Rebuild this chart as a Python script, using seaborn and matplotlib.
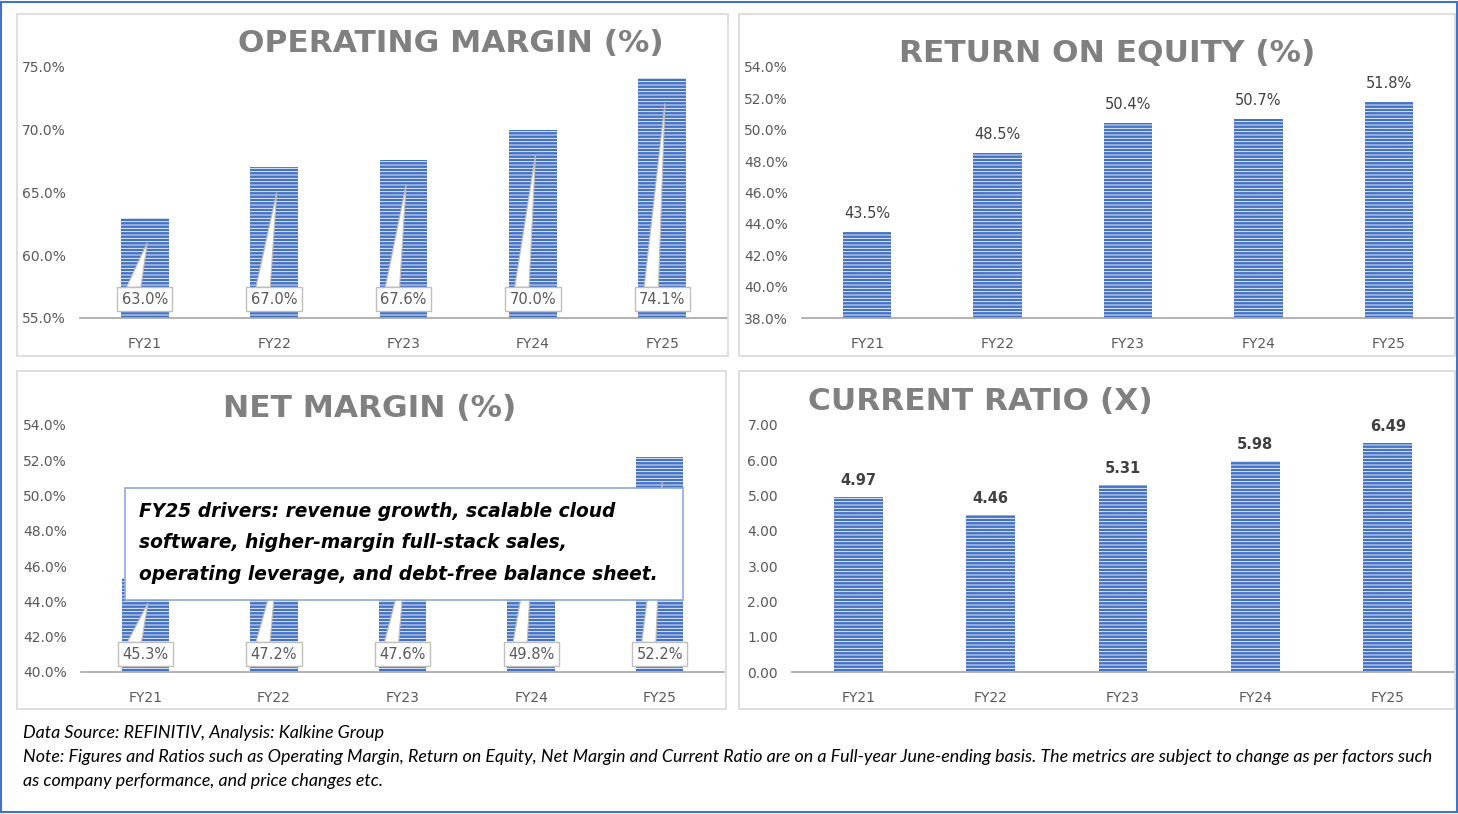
import matplotlib
matplotlib.use("Agg")
import matplotlib.pyplot as plt
import matplotlib.patches as mpatches
import seaborn as sns

years = ["FY21", "FY22", "FY23", "FY24", "FY25"]
op_margin = [63.0, 67.0, 67.6, 70.0, 74.1]
roe = [43.5, 48.5, 50.4, 50.7, 51.8]
net_margin = [45.3, 47.2, 47.6, 49.8, 52.2]
current_ratio = [4.97, 4.46, 5.31, 5.98, 6.49]

note_text = ("FY25 drivers: revenue growth, scalable cloud\n"
             "software, higher-margin full-stack sales,\n"
             "operating leverage, and debt-free balance sheet.")
footer = ["Data Source: REFINITIV, Analysis: Kalkine Group",
          "Note: Figures and Ratios such as Operating Margin, Return on Equity, Net Margin and Current Ratio are on a Full-year June-ending basis. The metrics are subject to change as per factors such",
          "as company performance, and price changes etc."]

sns.set_style("white")
plt.rcParams["font.family"] = ["DejaVu Sans"]
plt.rcParams["hatch.linewidth"] = 0.6

W, H = 1458, 814
fig = plt.figure(figsize=(W / 100, H / 100), dpi=100)

BAR = "#4472C4"
GREY_TXT = "#595959"
TITLE_C = "#808080"


def px_axes(left, right, top, bottom):
    return fig.add_axes([left / W, 1 - bottom / H, (right - left) / W, (bottom - top) / H])


def px_rect(l, r, t, b, **kw):
    fig.patches.append(mpatches.Rectangle((l / W, 1 - b / H), (r - l) / W, (b - t) / H,
                                          transform=fig.transFigure, **kw))


def style_bars(ax):
    for p in ax.patches:
        p.set_facecolor(BAR)
        p.set_edgecolor("white")
        p.set_hatch("-----")
        p.set_linewidth(0)


def style_axis(ax, lo, hi, step, fmt):
    ax.set_ylim(lo, hi)
    ticks = []
    v = lo
    while v <= hi + 1e-9:
        ticks.append(v)
        v += step
    ax.set_yticks(ticks)
    ax.set_yticklabels([fmt.format(t) for t in ticks], color=GREY_TXT, fontsize=10)
    ax.set_xlim(-0.5, 4.5)
    ax.tick_params(axis="x", colors=GREY_TXT, labelsize=10, length=0, pad=14)
    ax.tick_params(axis="y", length=0, pad=10)
    ax.set_xlabel("")
    ax.set_ylabel("")
    for s in ["left", "top", "right"]:
        ax.spines[s].set_visible(False)
    ax.spines["bottom"].set_color("#A6A6A6")
    ax.spines["bottom"].set_linewidth(1.2)
    ax.set_facecolor("none")


def callouts(ax, vals, box_y, drop, px_per_unit):
    half_box = 12 / px_per_unit
    for i, v in enumerate(vals):
        tip = (i + 0.02, v - drop)
        base = [(i - 0.14, box_y + half_box), (i - 0.03, box_y + half_box)]
        ax.add_patch(mpatches.Polygon([base[0], tip, base[1]], closed=True, fc="white",
                                      ec="#BFBFBF", lw=0.8, zorder=4))
        ax.text(i, box_y, f"{v:.1f}%", ha="center", va="center", fontsize=10.5,
                color=GREY_TXT, zorder=5,
                bbox=dict(boxstyle="square,pad=0.3", fc="white", ec="#BFBFBF", lw=1))


# panel frames
for (l, r, t, b) in [(17, 728, 14, 356), (739, 1455, 14, 356),
                     (17, 726, 371, 709), (739, 1455, 371, 709)]:
    px_rect(l, r, t, b, fill=False, ec="#D9D9D9", lw=1.2)
fig.patches.append(mpatches.Rectangle((0.001, 0.002), 0.998, 0.996, transform=fig.transFigure,
                                      fill=False, ec="#4472C4", lw=1.5))

# Operating margin
ax1 = px_axes(80, 727, 67, 318)
sns.barplot(x=years, y=op_margin, ax=ax1, color=BAR, width=0.37)
style_bars(ax1)
style_axis(ax1, 55, 75, 5, "{:.1f}%")
callouts(ax1, op_margin, 56.5, 2.0, 251 / 20)

# Return on equity
ax2 = px_axes(802, 1454, 67, 318)
sns.barplot(x=years, y=roe, ax=ax2, color=BAR, width=0.37)
style_bars(ax2)
style_axis(ax2, 38, 54, 2, "{:.1f}%")
for i, v in enumerate(roe):
    ax2.text(i, v + 0.7, f"{v:.1f}%", ha="center", va="bottom", fontsize=10.5, color="#404040")

# Net margin
ax3 = px_axes(81, 724, 425, 672)
sns.barplot(x=years, y=net_margin, ax=ax3, color=BAR, width=0.37)
style_bars(ax3)
style_axis(ax3, 40, 54, 2, "{:.1f}%")
callouts(ax3, net_margin, 41.0, 1.4, 247 / 14)

# Current ratio
ax4 = px_axes(792, 1454, 425, 672)
sns.barplot(x=years, y=current_ratio, ax=ax4, color=BAR, width=0.37)
style_bars(ax4)
style_axis(ax4, 0, 7, 1, "{:.2f}")
for i, v in enumerate(current_ratio):
    ax4.text(i, v + 0.25, f"{v:.2f}", ha="center", va="bottom", fontsize=10.5,
             color="#404040", fontweight="bold")

# titles
for txt, x, y in [("OPERATING MARGIN (%)", 451, 43), ("RETURN ON EQUITY (%)", 1107, 53),
                  ("NET MARGIN (%)", 370, 408), ("CURRENT RATIO (X)", 980, 401)]:
    fig.text(x / W, 1 - y / H, txt, ha="center", va="center", fontsize=22.5,
             fontweight="bold", color=TITLE_C)

# note box
box = mpatches.Rectangle((125 / W, 1 - 600 / H), 558 / W, 112 / H, transform=fig.transFigure,
                         fc="white", ec="#8EA9DB", lw=1.2, zorder=9)
fig.add_artist(box)
fig.text(139 / W, 1 - 543 / H, note_text, ha="left", va="center", fontsize=13.4,
         fontweight="bold", style="italic", color="black", linespacing=1.85, zorder=10)

# footer
for k, line in enumerate(footer):
    fig.text(23 / W, 1 - (733 + 24 * k) / H, line, ha="left", va="center", fontsize=12.9,
             style="italic", family=["Lato", "DejaVu Sans"], color="black")

fig.savefig("out.png", dpi=100, facecolor="white")
